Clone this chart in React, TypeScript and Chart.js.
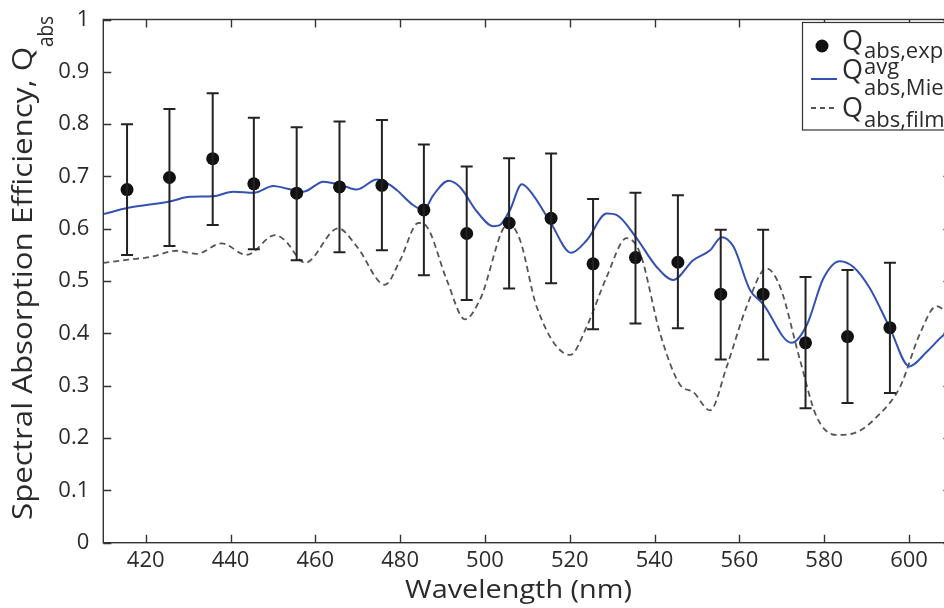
import React, { useEffect, useRef } from "react";
import { Chart, registerables } from "chart.js";

Chart.register(...registerables);

// ---------------- data ----------------
const xTicks = [420, 440, 460, 480, 500, 520, 540, 560, 580, 600];
const yTicks = [0, 0.1, 0.2, 0.3, 0.4, 0.5, 0.6, 0.7, 0.8, 0.9, 1];
const yTickLabels = ["0", "0.1", "0.2", "0.3", "0.4", "0.5", "0.6", "0.7", "0.8", "0.9", "1"];

const X_TITLE = "Wavelength (nm)";
const Y_TITLE = "Spectral Absorption Efficiency, Q";
const Y_TITLE_SUB = "abs";

// experimental points with error bars
const expX = [415.6, 425.6, 435.8, 445.5, 455.6, 465.7, 475.7, 485.6, 495.7, 505.7, 515.6, 525.5, 535.5, 545.5, 555.6, 565.6, 575.6, 585.5, 595.5];
const expY = [0.675, 0.698, 0.734, 0.686, 0.668, 0.68, 0.683, 0.636, 0.591, 0.611, 0.62, 0.533, 0.545, 0.536, 0.475, 0.475, 0.382, 0.394, 0.411];
const expHi = [0.8, 0.829, 0.859, 0.812, 0.794, 0.805, 0.808, 0.761, 0.719, 0.735, 0.744, 0.657, 0.669, 0.664, 0.598, 0.598, 0.508, 0.521, 0.535];
const expLo = [0.55, 0.567, 0.607, 0.561, 0.54, 0.555, 0.559, 0.511, 0.464, 0.486, 0.496, 0.408, 0.419, 0.41, 0.35, 0.35, 0.257, 0.267, 0.286];

// averaged Mie curve
const mieX = [410, 415.9, 425.6, 430.4, 435.8, 440.7, 445.5, 450.1, 453.2, 457.2, 461.9, 466.6, 469.8, 474.5, 477.6, 479.2, 483.1, 485.6, 487.8, 491.4, 494.1, 498.1, 502.0, 503.5, 505.9, 508.7, 511.4, 515.6, 520.3, 524.0, 528.7, 531.1, 535.5, 540.5, 544.4, 549.1, 553.1, 555.8, 558.6, 562.5, 565.6, 572.3, 575.9, 579.8, 583.7, 586.9, 590.8, 595.5, 600.1, 604.2, 608.2, 610];
const mieY = [0.628, 0.64, 0.652, 0.661, 0.662, 0.671, 0.669, 0.682, 0.677, 0.671, 0.69, 0.682, 0.675, 0.694, 0.684, 0.674, 0.645, 0.636, 0.664, 0.692, 0.68, 0.633, 0.605, 0.607, 0.636, 0.685, 0.664, 0.61, 0.554, 0.578, 0.629, 0.626, 0.585, 0.527, 0.502, 0.54, 0.559, 0.584, 0.566, 0.483, 0.456, 0.382, 0.416, 0.505, 0.538, 0.527, 0.486, 0.41, 0.337, 0.365, 0.397, 0.405];

// thin film curve
const filmX = [410, 415.9, 421.0, 427.3, 432.0, 437.9, 443.8, 450.5, 452.8, 457.6, 465.4, 469.8, 476.4, 480.0, 484.3, 486.3, 491.0, 495.3, 498.8, 505.5, 508.3, 512.2, 520.1, 524.0, 528.7, 533.4, 536.6, 541.3, 546.0, 549.1, 553.1, 557.0, 561.7, 566.4, 569.6, 574.3, 578.2, 582.9, 586.9, 593.2, 597.9, 602.6, 606.5, 608.2, 610];
const filmY = [0.535, 0.541, 0.546, 0.558, 0.552, 0.572, 0.55, 0.588, 0.578, 0.535, 0.601, 0.566, 0.493, 0.54, 0.611, 0.604, 0.502, 0.427, 0.464, 0.61, 0.578, 0.451, 0.359, 0.413, 0.508, 0.582, 0.553, 0.4, 0.302, 0.288, 0.253, 0.336, 0.451, 0.524, 0.489, 0.349, 0.241, 0.206, 0.209, 0.247, 0.298, 0.4, 0.452, 0.445, 0.43];

// ---------------- styles ----------------
const FONT = '"Open Sans", "DejaVu Sans", sans-serif';
const TEXT = "#2b2b2b";
const AXIS = "#333333";
const BLUE = "#3451b2";
const FILM = "#555555";
const W = 960;
const H = 608;

const errorBarPlugin = {
  id: "errorBars",
  afterDatasetsDraw(chart: any) {
    const { ctx, scales } = chart;
    const xs = scales.x;
    const ys = scales.y;
    ctx.save();
    ctx.strokeStyle = "#222";
    ctx.lineWidth = 2;
    for (let i = 0; i < expX.length; i++) {
      const px = xs.getPixelForValue(expX[i]);
      const top = ys.getPixelForValue(expHi[i]);
      const bot = ys.getPixelForValue(expLo[i]);
      ctx.beginPath();
      ctx.moveTo(px, top);
      ctx.lineTo(px, bot);
      ctx.moveTo(px - 6, top);
      ctx.lineTo(px + 6, top);
      ctx.moveTo(px - 6, bot);
      ctx.lineTo(px + 6, bot);
      ctx.stroke();
    }
    ctx.restore();
  },
};

function fillFitted(ctx: any, text: string, x: number, y: number, width: number) {
  const m = ctx.measureText(text).width;
  ctx.save();
  ctx.translate(x, y);
  ctx.scale(width / m, 1);
  ctx.fillText(text, 0, 0);
  ctx.restore();
}

const frameAndTextPlugin = {
  id: "frameAndText",
  afterDraw(chart: any) {
    const { ctx, chartArea, scales } = chart;
    const { left, right, top, bottom } = chartArea;
    const xs = scales.x;
    const ys = scales.y;
    ctx.save();
    // box
    ctx.strokeStyle = AXIS;
    ctx.lineWidth = 1.4;
    ctx.strokeRect(left, top, right - left, bottom - top);
    // inward ticks
    const TL = 8;
    ctx.beginPath();
    xTicks.forEach((v) => {
      const px = Math.round(xs.getPixelForValue(v)) + 0.5;
      ctx.moveTo(px, bottom);
      ctx.lineTo(px, bottom - TL);
      ctx.moveTo(px, top);
      ctx.lineTo(px, top + TL);
    });
    yTicks.forEach((v) => {
      const py = Math.round(ys.getPixelForValue(v)) + 0.5;
      ctx.moveTo(left, py);
      ctx.lineTo(left + TL, py);
      ctx.moveTo(right, py);
      ctx.lineTo(right - TL, py);
    });
    ctx.stroke();

    // x title
    ctx.fillStyle = TEXT;
    ctx.textAlign = "left";
    ctx.textBaseline = "alphabetic";
    ctx.font = `26px ${FONT}`;
    fillFitted(ctx, X_TITLE, 405, 598, 227);

    // y title (rotated, with subscript)
    ctx.save();
    ctx.translate(32, 520);
    ctx.rotate(-Math.PI / 2);
    ctx.font = `27px ${FONT}`;
    fillFitted(ctx, Y_TITLE, 0, 0, 473);
    ctx.font = `22px ${FONT}`;
    fillFitted(ctx, Y_TITLE_SUB, 473, 21, 31);
    ctx.restore();

    // legend
    const lx = 802.5;
    const ly = 22.5;
    ctx.fillStyle = "#ffffff";
    ctx.fillRect(lx, ly, 200, 107.5);
    ctx.strokeStyle = AXIS;
    ctx.lineWidth = 1.2;
    ctx.strokeRect(lx, ly, 200, 107.5);

    // entry 1: marker
    ctx.fillStyle = "#111";
    ctx.beginPath();
    ctx.arc(822, 46, 6.5, 0, Math.PI * 2);
    ctx.fill();
    // entry 2: blue line
    ctx.strokeStyle = BLUE;
    ctx.lineWidth = 2;
    ctx.beginPath();
    ctx.moveTo(811, 79);
    ctx.lineTo(837, 79);
    ctx.stroke();
    // entry 3: dashed
    ctx.strokeStyle = FILM;
    ctx.lineWidth = 1.8;
    ctx.setLineDash([5, 4]);
    ctx.beginPath();
    ctx.moveTo(811, 108);
    ctx.lineTo(837, 108);
    ctx.stroke();
    ctx.setLineDash([]);

    ctx.fillStyle = TEXT;
    ctx.textAlign = "left";
    ctx.font = `27px ${FONT}`;
    ctx.fillText("Q", 842, 50);
    ctx.fillText("Q", 842, 79);
    ctx.fillText("Q", 842, 117);
    ctx.font = `22px ${FONT}`;
    ctx.fillText("abs,exp", 864, 58);
    ctx.fillText("avg", 864, 74);
    ctx.fillText("abs,Mie", 864, 95);
    ctx.fillText("abs,film", 864, 127);
    ctx.restore();
  },
};

export default function App() {
  const ref = useRef<HTMLCanvasElement | null>(null);

  useEffect(() => {
    const canvas = ref.current;
    if (!canvas) return;
    const chart = new Chart(canvas, {
      type: "scatter",
      data: {
        datasets: [
          {
            label: "exp",
            data: expX.map((x, i) => ({ x, y: expY[i] })),
            showLine: false,
            pointRadius: 6.5,
            pointBackgroundColor: "#111",
            pointBorderColor: "#111",
            pointBorderWidth: 0,
          },
          {
            label: "mie",
            data: mieX.map((x, i) => ({ x, y: mieY[i] })),
            showLine: true,
            borderColor: BLUE,
            borderWidth: 2,
            pointRadius: 0,
            cubicInterpolationMode: "monotone",
          },
          {
            label: "film",
            data: filmX.map((x, i) => ({ x, y: filmY[i] })),
            showLine: true,
            borderColor: FILM,
            borderWidth: 1.8,
            borderDash: [6, 4],
            pointRadius: 0,
            cubicInterpolationMode: "monotone",
          },
        ],
      } as any,
      options: {
        responsive: false,
        animation: false,
        devicePixelRatio: 1,
        layout: { padding: { top: 19.5, right: W - 951.4, left: 0, bottom: 0 } },
        plugins: { legend: { display: false }, tooltip: { enabled: false } },
        scales: {
          x: {
            type: "linear",
            min: 410,
            max: 610,
            grid: { display: false },
            border: { display: false },
            afterBuildTicks: (axis: any) => {
              axis.ticks = xTicks.map((v) => ({ value: v }));
            },
            afterFit: (axis: any) => {
              axis.height = H - 542.7;
            },
            ticks: {
              autoSkip: false,
              maxRotation: 0,
              padding: -3,
              color: TEXT,
              font: { family: FONT, size: 22 },
              callback: (v: any) => String(v),
            },
          },
          y: {
            type: "linear",
            min: 0,
            max: 1,
            grid: { display: false },
            border: { display: false },
            afterBuildTicks: (axis: any) => {
              axis.ticks = yTicks.map((v) => ({ value: v }));
            },
            afterFit: (axis: any) => {
              axis.width = 103.3;
            },
            ticks: {
              autoSkip: false,
              padding: 6,
              color: TEXT,
              font: { family: FONT, size: 22 },
              callback: (_v: any, i: number) => yTickLabels[i],
            },
          },
        },
      } as any,
      plugins: [errorBarPlugin, frameAndTextPlugin],
    });
    return () => chart.destroy();
  }, []);

  return (
    <div
      style={{
        position: "fixed",
        left: 0,
        top: 0,
        width: 944,
        height: 608,
        overflow: "hidden",
        background: "#fff",
      }}
    >
      <canvas ref={ref} width={W} height={H} style={{ display: "block", width: W, height: H }} />
    </div>
  );
}
